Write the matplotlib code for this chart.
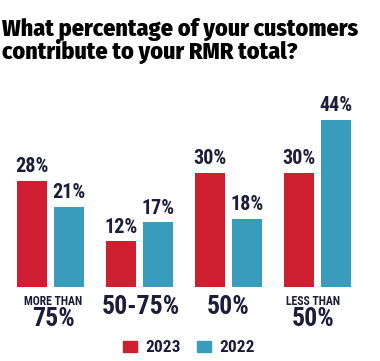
import matplotlib
matplotlib.use("Agg")
import matplotlib.pyplot as plt
import matplotlib.transforms as mtransforms

# dados
categorias = ["75%", "50-75%", "50%", "50%"]
prefixos = ["MORE THAN", "", "", "LESS THAN"]
anos = ["2023", "2022"]
v2023 = [28, 12, 30, 30]
v2022 = [21, 17, 18, 44]

VERMELHO = "#cd1f30"
AZUL = "#389dbd"
TEXTO = "#1b1d3a"
FONTE = ["Roboto Condensed", "Liberation Sans", "DejaVu Sans"]
FONTE_TIT = ["Fira Sans Condensed", "Roboto Condensed", "Liberation Sans", "DejaVu Sans"]

W, H = 380, 361
fig = plt.figure(figsize=(W / 100, H / 100), dpi=100)

def fy(px):
    return 1 - px / H

ax = fig.add_axes([0, fy(287), 1, (287 - 80) / H])
ax.set_xlim(-50.5 / 89, (W - 50.5) / 89)
ax.set_ylim(0, 207 / 3.8)
ax.axis("off")

larg = 30 / 89
desl = 18.5 / 89
x = list(range(len(categorias)))
b1 = ax.bar([i - desl for i in x], v2023, larg, color=VERMELHO)
b2 = ax.bar([i + desl for i in x], v2022, larg, color=AZUL)

for barras, vals in ((b1, v2023), (b2, v2022)):
    for b, v in zip(barras, vals):
        ax.annotate("{}%".format(v), (b.get_x() + b.get_width() / 2, v),
                    xytext=(0, 3.5), textcoords="offset points", ha="center", va="bottom",
                    fontsize=14.5, fontweight="bold", family=FONTE, color=TEXTO)

# rotulos das categorias (pequeno ajuste horizontal como no original)
ajuste = [0.034, 0.017, 0, -0.05]
tr = mtransforms.blended_transform_factory(ax.transData, fig.transFigure)
for i, (cat, pre) in enumerate(zip(categorias, prefixos)):
    if pre:
        ax.text(i + ajuste[i], fy(305), pre, transform=tr, ha="center", va="baseline",
                fontsize=8.5, fontweight="bold", family=FONTE, color=TEXTO)
        ax.text(i + ajuste[i], fy(326), cat, transform=tr, ha="center", va="baseline",
                fontsize=18.5, fontweight="bold", family=FONTE, color=TEXTO)
    else:
        ax.text(i + ajuste[i], fy(314), cat, transform=tr, ha="center", va="baseline",
                fontsize=18.5, fontweight="bold", family=FONTE, color=TEXTO)

fig.text(0.005, fy(18), "What percentage of your customers\ncontribute to your RMR total?",
         ha="left", va="top", fontsize=17.3, fontweight="heavy", family=FONTE_TIT,
         color="black", linespacing=0.92)

# legenda
for px, cor, ano in ((123, VERMELHO, anos[0]), (197, AZUL, anos[1])):
    fig.patches.append(plt.Rectangle((px / W, fy(352)), 14 / W, 11 / H,
                                     transform=fig.transFigure, color=cor))
    fig.text((px + 22) / W, fy(352), ano, ha="left", va="baseline",
             fontsize=12.5, fontweight="bold", family=FONTE, color=TEXTO)

fig.savefig("out.png", dpi=100)
